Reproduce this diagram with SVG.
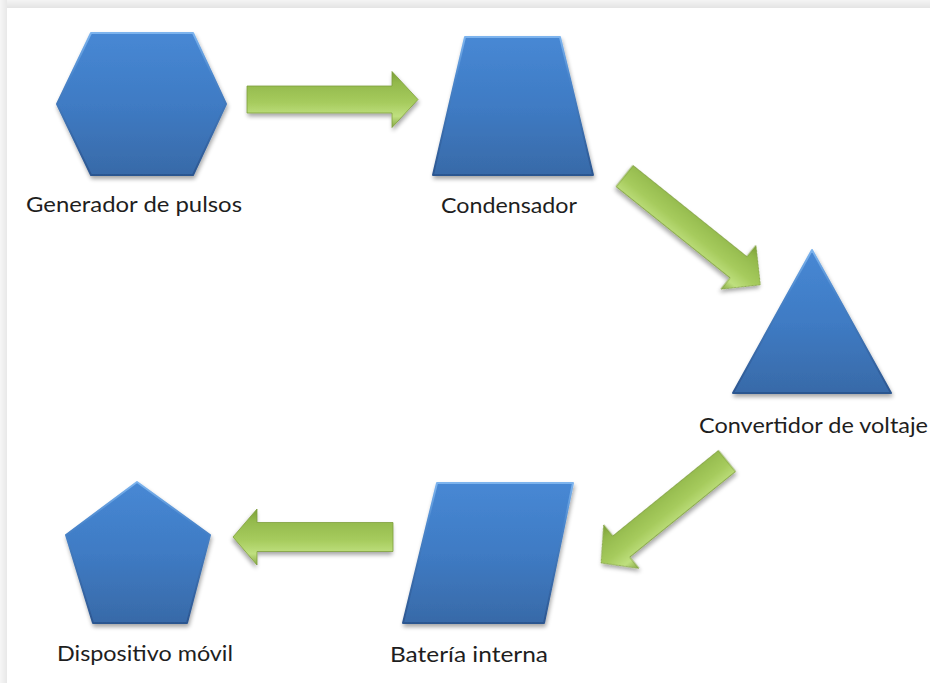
<svg xmlns="http://www.w3.org/2000/svg" width="930" height="683" viewBox="0 0 930 683">
  <defs>
    <linearGradient id="frameTop" x1="0" y1="0" x2="0" y2="1">
      <stop offset="0" stop-color="#f4f4f4"/>
      <stop offset="1" stop-color="#e4e4e4"/>
    </linearGradient>
    <linearGradient id="frameLeft" x1="0" y1="0" x2="1" y2="0">
      <stop offset="0" stop-color="#f6f6f6"/>
      <stop offset="1" stop-color="#e8e8e8"/>
    </linearGradient>
    <linearGradient id="blueFill" x1="0" y1="0" x2="0" y2="1">
      <stop offset="0" stop-color="#4788d4"/>
      <stop offset="0.5" stop-color="#3f7bc4"/>
      <stop offset="1" stop-color="#386aa8"/>
    </linearGradient>
    <linearGradient id="blueEdge" x1="0" y1="0" x2="0" y2="1">
      <stop offset="0" stop-color="#7db4ee"/>
      <stop offset="0.3" stop-color="#4a86cc"/>
      <stop offset="1" stop-color="#2c5690"/>
    </linearGradient>
    <linearGradient id="greenFill" x1="0" y1="0" x2="0" y2="1">
      <stop offset="0" stop-color="#7a9e36"/>
      <stop offset="0.2" stop-color="#93b94c"/>
      <stop offset="0.55" stop-color="#a6cb5d"/>
      <stop offset="0.8" stop-color="#bfe07f"/>
      <stop offset="1" stop-color="#86a843"/>
    </linearGradient>
    <filter id="shadow" x="-10%" y="-10%" width="130%" height="130%">
      <feGaussianBlur in="SourceAlpha" stdDeviation="2"/>
      <feOffset dx="1" dy="3" result="b"/>
      <feComponentTransfer><feFuncA type="linear" slope="0.35"/></feComponentTransfer>
      <feMerge><feMergeNode/><feMergeNode in="SourceGraphic"/></feMerge>
    </filter>
    <path id="arrowShape" d="M0,-14 L-26,-14 L-26,-28 L0,0 L-26,28 L-26,14 Z"/>
  </defs>
  <style>
    .shape { fill: url(#blueFill); stroke: url(#blueEdge); stroke-width: 2; stroke-linejoin: round; filter: url(#shadow); }
    .arrow { fill: url(#greenFill); stroke: #7f9f3c; stroke-width: 0.8; stroke-linejoin: miter; filter: url(#shadow); }
    .label { font-family: Lato, "Open Sans", "Liberation Sans", sans-serif; font-size: 21px; fill: #1e1e1e; }
  </style>

  <rect x="0" y="0" width="930" height="683" fill="#ffffff"/>
  <rect x="0" y="0" width="930" height="8" fill="url(#frameTop)"/>
  <rect x="0" y="0" width="7" height="683" fill="url(#frameLeft)"/>

  <g id="connectors">
    <polygon class="arrow" transform="translate(247,99.5)" points="0,-13.5 145,-13.5 145,-28 171,0 145,28 145,13.5 0,13.5"/>
    <polygon class="arrow" transform="translate(624.5,176) rotate(38.7)" points="0,-13.5 146,-13.5 146,-28 174,0 146,28 146,13.5 0,13.5"/>
    <polygon class="arrow" transform="translate(727,461) scale(-1,1) rotate(39)" points="0,-13.5 136,-13.5 136,-28 162,0 136,28 136,13.5 0,13.5"/>
    <polygon class="arrow" transform="translate(393,537) scale(-1,1)" points="0,-14.5 136,-14.5 136,-28 160,0 136,28 136,14.5 0,14.5"/>
  </g>

  <g id="generador">
    <polygon class="shape" points="57,104 91,33 193,33 226,104 193,175 91,175"/>
    <text class="label" x="26" y="212" textLength="216" lengthAdjust="spacingAndGlyphs">Generador de pulsos</text>
  </g>

  <g id="condensador">
    <polygon class="shape" points="465,37 560,37 593,175 433,175"/>
    <text class="label" x="441" y="213" textLength="136" lengthAdjust="spacingAndGlyphs">Condensador</text>
  </g>

  <g id="convertidor">
    <polygon class="shape" points="812,250 891,393 733,393"/>
    <text class="label" x="699" y="433" textLength="229" lengthAdjust="spacingAndGlyphs">Convertidor de voltaje</text>
  </g>

  <g id="bateria">
    <polygon class="shape" points="437,483 573,483 544,623 403,623"/>
    <text class="label" x="390" y="662" textLength="158" lengthAdjust="spacingAndGlyphs">Batería interna</text>
  </g>

  <g id="dispositivo">
    <polygon class="shape" points="137,482 210,535 187,623 93,623 66,535"/>
    <text class="label" x="57" y="661" textLength="176" lengthAdjust="spacingAndGlyphs">Dispositivo móvil</text>
  </g>
</svg>
